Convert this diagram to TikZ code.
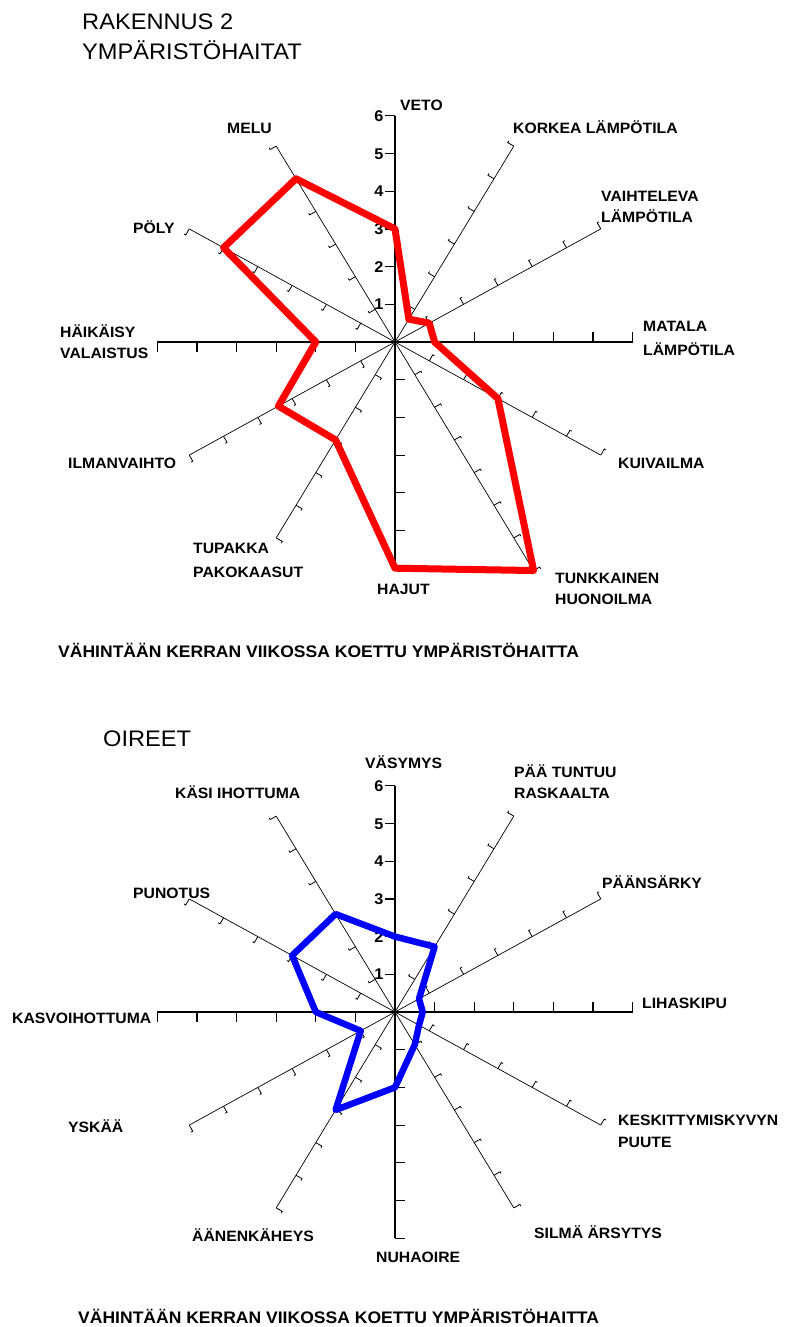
\documentclass[tikz,border=0pt]{standalone}
\usepackage{fontspec}
\setmainfont{Liberation Sans}[FakeStretch=1.05]
\tikzset{
  mainaxis/.style={line width=1.4pt},
  diagaxis/.style={line width=0.7pt},
  maintick/.style={line width=1.2pt},
  diagtick/.style={line width=0.8pt},
  lbl/.style={anchor=west, inner sep=0pt, font=\bfseries\fontsize{15}{18}\selectfont, text height=10.7pt, text depth=0pt},
  num/.style={anchor=east, inner sep=0pt, font=\bfseries\fontsize{15.5}{18}\selectfont, text height=11pt, text depth=0pt},
  ttl/.style={anchor=west, inner sep=0pt, font=\fontsize{22.5}{27}\selectfont, text height=16.1pt, text depth=0pt},
  note/.style={anchor=west, inner sep=0pt, font=\bfseries\fontsize{16.7}{20}\selectfont, text height=11.9pt, text depth=0pt},
  redpoly/.style={draw=red, line width=7pt, line join=round},
  bluepoly/.style={draw=blue, line width=6.5pt, line join=round},
}
\newcommand\drawradar[2]{%
  \foreach \a/\L in {#1} {
    \draw[diagaxis] (0,0) -- (\a:\L);
    \foreach \k in {1,...,\L} \draw[diagtick] (\a:\k) -- ++(\a+90:7pt) -- ++(\a:2pt);
  }
  \foreach \a in {0,90,180,270} {
    \draw[mainaxis] (0,0) -- (\a:6);
    \foreach \k in {1,...,6} \draw[maintick] (\a:\k) -- ++(\a+90:10pt);
  }
  \foreach \k in {1,...,6} \node[num] (#2n\k) at (-0.29,\k) {\k};
}
\begin{document}
\begin{tikzpicture}[x=1pt,y=-1pt]
\fill[white] (0,0) rectangle (785,1327);
\useasboundingbox (0,0) rectangle (785,1327);

% ---------- titles ----------
\node[ttl] (title1) at (82,21) {RAKENNUS 2};
\node[ttl] (title2) at (82,51) {YMPÄRISTÖHAITAT};
\node[ttl] (title3) at (103,738) {OIREET};

% ---------- chart 1 ----------
\begin{scope}[shift={(395,342)}, x=39.6pt, y=37.7pt]
  \drawradar{60/6,30/6,-30/6,-60/7,-120/6,-150/6,150/6,120/6}{a}
  \coordinate (r1) at (90:3);
  \coordinate (r2) at (60:0.7);
  \coordinate (r3) at (30:1);
  \coordinate (r4) at (0:1);
  \coordinate (r5) at (-30:3);
  \coordinate (r6) at (-60:7);
  \coordinate (r7) at (-90:6);
  \coordinate (r8) at (-120:3);
  \coordinate (r9) at (-150:3.4);
  \coordinate (r10) at (180:2);
  \coordinate (r11) at (150:5);
  \coordinate (r12) at (120:5);
  \draw[redpoly] (r1) -- (r2) -- (r3) -- (r4) -- (r5) -- (r6) -- (r7) -- (r8) -- (r9) -- (r10) -- (r11) -- (r12) -- cycle;
\end{scope}

\node[lbl] (veto) at (400,105) {VETO};
\node[lbl] (korkea) at (513,128) {KORKEA LÄMPÖTILA};
\node[lbl] (vaiht1) at (601,196) {VAIHTELEVA};
\node[lbl] (vaiht2) at (601,217) {LÄMPÖTILA};
\node[lbl] (matala1) at (643,326) {MATALA};
\node[lbl] (matala2) at (643,350) {LÄMPÖTILA};
\node[lbl] (kuiva) at (618,463) {KUIVAILMA};
\node[lbl] (tunk1) at (555,578) {TUNKKAINEN};
\node[lbl] (tunk2) at (555,599) {HUONOILMA};
\node[lbl] (hajut) at (377,589) {HAJUT};
\node[lbl] (tupa1) at (193,548) {TUPAKKA};
\node[lbl] (tupa2) at (193,572) {PAKOKAASUT};
\node[lbl] (ilma) at (68,463) {ILMANVAIHTO};
\node[lbl] (haik1) at (60,332) {HÄIKÄISY};
\node[lbl] (haik2) at (60,353) {VALAISTUS};
\node[lbl] (poly) at (133,228) {PÖLY};
\node[lbl] (melu) at (227,128) {MELU};
\node[note] (note1) at (58,652) {VÄHINTÄÄN KERRAN VIIKOSSA KOETTU YMPÄRISTÖHAITTA};

% ---------- chart 2 ----------
\begin{scope}[shift={(395,1012)}, x=39.6pt, y=37.7pt]
  \drawradar{60/6,30/6,-30/6,-60/6,-120/6,-150/6,150/6,120/6}{b}
  \coordinate (b1) at (90:2);
  \coordinate (b2) at (60:2);
  \coordinate (b3) at (30:0.7);
  \coordinate (b4) at (0:0.7);
  \coordinate (b5) at (-30:0.7);
  \coordinate (b6) at (-60:1);
  \coordinate (b7) at (-90:2);
  \coordinate (b8) at (-120:3);
  \coordinate (b9) at (-150:1);
  \coordinate (b10) at (180:2);
  \coordinate (b11) at (150:3);
  \coordinate (b12) at (120:3);
  \draw[bluepoly] (b1) -- (b2) -- (b3) -- (b4) -- (b5) -- (b6) -- (b7) -- (b8) -- (b9) -- (b10) -- (b11) -- (b12) -- cycle;
\end{scope}

\node[lbl] (vasy) at (365,763) {VÄSYMYS};
\node[lbl] (paa1) at (514,772) {PÄÄ TUNTUU};
\node[lbl] (paa2) at (514,793) {RASKAALTA};
\node[lbl] (paans) at (602,883) {PÄÄNSÄRKY};
\node[lbl] (liha) at (642,1003) {LIHASKIPU};
\node[lbl] (kesk1) at (618,1120) {KESKITTYMISKYVYN};
\node[lbl] (kesk2) at (618,1142) {PUUTE};
\node[lbl] (silma) at (534,1233) {SILMÄ ÄRSYTYS};
\node[lbl] (nuha) at (376,1257) {NUHAOIRE};
\node[lbl] (aanen) at (192,1236) {ÄÄNENKÄHEYS};
\node[lbl] (yska) at (68,1127) {YSKÄÄ};
\node[lbl] (kasvo) at (12,1018) {KASVOIHOTTUMA};
\node[lbl] (punot) at (133,893) {PUNOTUS};
\node[lbl] (kasi) at (175,793) {KÄSI IHOTTUMA};
\node[note] (note2) at (78,1318) {VÄHINTÄÄN KERRAN VIIKOSSA KOETTU YMPÄRISTÖHAITTA};
\end{tikzpicture}
\end{document}
